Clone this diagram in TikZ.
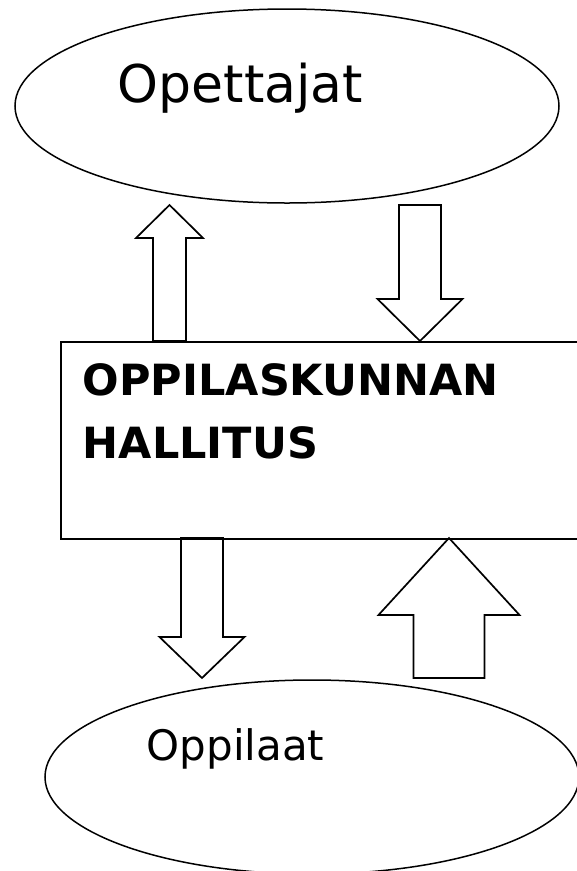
\documentclass[tikz,border=0pt]{standalone}
\usepackage{fontspec}
\setmainfont{DejaVu Sans}
\usetikzlibrary{shapes.geometric}

% block arrow: x, tail y, tip y, shaft half width, head half width, head base y
\newcommand\blockarrow[6]{%
  \draw[blockarr] (#1-#4,#2) -- (#1-#4,#6) -- (#1-#5,#6) -- (#1,#3)
    -- (#1+#5,#6) -- (#1+#4,#6) -- (#1+#4,#2) -- cycle;}

\begin{document}
\begin{tikzpicture}[x=1pt,y=-1pt,line width=1.5pt,
    blob/.style={draw,ellipse,inner sep=0pt},
    blockarr/.style={line join=miter,line width=1.7pt}]
  \clip (0,0) rectangle (577,871);
  \fill[white] (0,0) rectangle (577,871);
  \node[blob,minimum width=544pt,minimum height=194pt] (teachers) at (287,106) {};
  \node[anchor=base west,inner sep=0pt,font=\fontsize{52}{62}\selectfont] (teacherstxt) at (117,102) {Opettajat};
  \node[draw,line width=2pt,anchor=north west,minimum width=540pt,minimum height=197pt,inner sep=0pt] (board) at (60,341) {};
  \node[anchor=north west,inner sep=0pt,align=left,font=\fontsize{43}{63}\selectfont\bfseries] (boardtxt) at (82,363) {OPPILASKUNNAN\\HALLITUS};
  \node[blob,minimum width=534pt,minimum height=194pt] (pupils) at (312,777) {};
  \node[anchor=base west,inner sep=0pt,font=\fontsize{42}{50}\selectfont] (pupilstxt) at (146,760) {Oppilaat};
  \blockarrow{169.5}{341}{205}{16.5}{33.5}{238}
  \blockarrow{420}{205}{341}{21}{42.5}{299}
  \blockarrow{202}{538}{678}{21}{42.5}{637}
  \blockarrow{449}{678}{538}{35.5}{70.5}{615}
\end{tikzpicture}
\end{document}
